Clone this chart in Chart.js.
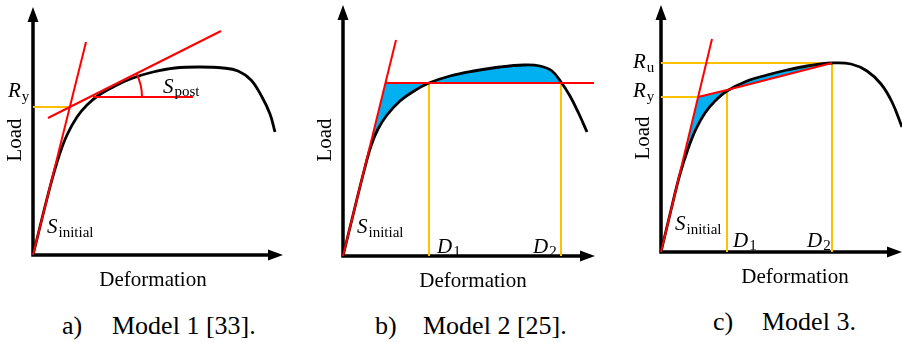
<!DOCTYPE html>
<html>
<head>
<meta charset="utf-8">
<script src="https://cdn.jsdelivr.net/npm/chart.js@4.4.2/dist/chart.umd.min.js"></script>
<style>
  body { margin: 0; background: #fff; }
  #fig { position: relative; width: 902px; height: 342px; overflow: hidden; background: #fff;
         font-family: "Liberation Serif", "Times New Roman", serif; }
  #fig canvas { position: absolute; top: 0; }
  .cap { position: absolute; font-size: 26px; line-height: 26px; white-space: pre; color: #000; }
</style>
</head>
<body>
<div id="fig">
  <canvas id="chartA" width="300" height="300" style="left:0px"></canvas>
  <canvas id="chartB" width="300" height="300" style="left:300px"></canvas>
  <canvas id="chartC" width="302" height="300" style="left:600px"></canvas>
  <div class="cap" style="left:62px;top:313px">a)</div>
  <div class="cap" style="left:112px;top:313px">Model 1 [33].</div>
  <div class="cap" style="left:375px;top:313px">b)</div>
  <div class="cap" style="left:423px;top:313px">Model 2 [25].</div>
  <div class="cap" style="left:713px;top:309px">c)</div>
  <div class="cap" style="left:762px;top:309px">Model 3.</div>
</div>

<script>
// values: [deformation, load], origin of each panel = 0,0

// a) Model 1
const curveA   = [[0,0],[17,68],[26,99],[34,120],[44,138],[54,150],[66,160],[82,169],[100,177],[120,183],
                  [142,187],[167,188],[190,187],[205,184],[218,175],[229,158],[237,141],[242,123]];
const steepA   = [[0,0],[53,213]];
const tangentA = [[15,137],[188,224]];
const levelA   = [[60,158],[160,158]];
const yieldA   = [[0,148],[36,148]];

// b) Model 2
const curveB   = [[0,0],[12,49],[21,85],[28,110],[35,127],[44,141],[57,155],[71,165],[86,173],[107,180],
                  [131,185],[157,189],[181,191],[197,190],[209,185],[218,174],[227,160],[236,142],[244,124]];
const steepB   = [[0,0],[53,216]];
const levelB   = [[42,173],[251,173]];
const areaB    = [[28,114],[42,173],[218,173]];
const d1B      = [[86,0],[86,173]];
const d2B      = [[218,0],[218,173]];

// c) Model 3
const curveC   = [[0,0],[10,42],[19,78],[27,103],[35,123],[44,139],[54,151],[66,161],[86,171],[106,177],
                  [126,182],[146,186],[171,189],[190,188],[206,181],[220,168],[231,150],[241,125]];
const steepC   = [[0,0],[51,213]];
const bilinC   = [[37,155],[66,162],[171,189]];
const areaC    = [[19,79],[37,155],[66,162],[171,189]];
const ruC      = [[0,189],[171,189]];
const ryC      = [[0,155],[37,155]];
const d1C      = [[66,0],[66,162]];
const d2C      = [[171,0],[171,189]];

const RED = '#ff0000', YELLOW = '#ffc000', BLUE = '#00b0f0', BLACK = '#000000';

function line(points, color, width, extra) {
  return Object.assign({
    data: points.map(p => ({x: p[0], y: p[1]})),
    borderColor: color,
    borderWidth: width,
    pointRadius: 0,
    fill: false,
    tension: 0
  }, extra || {});
}

function curve(points, extra) {
  return line(points, BLACK, 2.8, Object.assign({tension: 0.4}, extra || {}));
}

// axes with arrows, labels and the angle mark
function diagram(deco) {
  return {
    id: 'diagram',
    beforeDatasetsDraw(chart) {
      const {ctx, scales: {x, y}} = chart;
      const x0 = x.getPixelForValue(0), y0 = y.getPixelForValue(0);
      const xt = x.getPixelForValue(deco.axisEnd[0]), yt = y.getPixelForValue(deco.axisEnd[1]);
      ctx.save();
      ctx.strokeStyle = BLACK;
      ctx.fillStyle = BLACK;
      ctx.lineWidth = 3.5;
      ctx.beginPath();
      ctx.moveTo(x0, y0 + 1.7);
      ctx.lineTo(x0, yt + 12);
      ctx.moveTo(x0 - 1.7, y0);
      ctx.lineTo(xt - 12, y0);
      ctx.stroke();
      ctx.beginPath();
      ctx.moveTo(x0, yt);
      ctx.lineTo(x0 - 5.5, yt + 15);
      ctx.lineTo(x0 + 5.5, yt + 15);
      ctx.closePath();
      ctx.fill();
      ctx.beginPath();
      ctx.moveTo(xt, y0);
      ctx.lineTo(xt - 15, y0 - 5.5);
      ctx.lineTo(xt - 15, y0 + 5.5);
      ctx.closePath();
      ctx.fill();
      ctx.restore();
    },
    afterDatasetsDraw(chart) {
      const {ctx, scales: {x, y}} = chart;
      ctx.save();
      ctx.fillStyle = BLACK;
      ctx.textBaseline = 'alphabetic';

      if (deco.arc) {
        const a = deco.arc;
        const cx = x.getPixelForValue(a.center[0]), cy = y.getPixelForValue(a.center[1]);
        const r = x.getPixelForValue(a.center[0] + a.radius) - cx;
        const p1 = a.along[0], p2 = a.along[1];
        const ang = Math.atan2(y.getPixelForValue(p2[1]) - y.getPixelForValue(p1[1]),
                               x.getPixelForValue(p2[0]) - x.getPixelForValue(p1[0]));
        ctx.strokeStyle = RED;
        ctx.lineWidth = 2;
        ctx.beginPath();
        ctx.arc(cx, cy, r, ang, 0);
        ctx.stroke();
      }

      for (const lab of deco.symbols) {
        const px = x.getPixelForValue(lab.at[0]), py = y.getPixelForValue(lab.at[1]);
        ctx.textAlign = 'left';
        ctx.font = 'italic 21px "Liberation Serif"';
        ctx.fillText(lab.main, px, py);
        const w = ctx.measureText(lab.main).width;
        ctx.font = '15px "Liberation Serif"';
        ctx.fillText(lab.sub, px + w + 1, py + (lab.drop || 4));
      }

      ctx.font = '21px "Liberation Serif"';
      ctx.textAlign = 'center';
      ctx.fillText('Deformation', x.getPixelForValue(deco.xTitle[0]), y.getPixelForValue(deco.xTitle[1]));
      ctx.translate(x.getPixelForValue(deco.yTitle[0]), y.getPixelForValue(deco.yTitle[1]));
      ctx.rotate(-Math.PI / 2);
      ctx.textBaseline = 'middle';
      ctx.fillText('Load', 0, 0);
      ctx.restore();
    }
  };
}

function makeChart(id, range, datasets, deco) {
  return new Chart(document.getElementById(id), {
    type: 'line',
    data: { datasets: datasets },
    options: {
      responsive: false,
      animation: false,
      devicePixelRatio: 1,
      layout: { padding: 0 },
      scales: {
        x: { type: 'linear', min: range[0], max: range[1], display: false },
        y: { type: 'linear', min: range[2], max: range[3], display: false }
      },
      plugins: { legend: { display: false }, tooltip: { enabled: false } }
    },
    plugins: [diagram(deco)]
  });
}

makeChart('chartA', [-33, 267, -45, 255], [
  line(steepA, RED, 2),
  line(tangentA, RED, 2),
  line(levelA, RED, 2),
  curve(curveA),
  line(yieldA, YELLOW, 2.2)
], {
  axisEnd: [250, 248],
  arc: { center: [57, 158], radius: 52, along: tangentA },
  symbols: [
    { main: 'R', sub: 'y', at: [-25, 158] },
    { main: 'S', sub: 'post', at: [130, 162], drop: 3 },
    { main: 'S', sub: 'initial', at: [14, 22] }
  ],
  xTitle: [120, -31],
  yTitle: [-18, 115]
});

makeChart('chartB', [-43, 257, -44, 256], [
  line(steepB, RED, 2),
  line(levelB, RED, 2),
  curve(curveB, { fill: { target: 5, above: BLUE, below: BLUE } }),
  line(d1B, YELLOW, 2),
  line(d2B, YELLOW, 2),
  line(areaB, 'rgba(0,0,0,0)', 0)
], {
  axisEnd: [252, 251],
  symbols: [
    { main: 'S', sub: 'initial', at: [14, 23] },
    { main: 'D', sub: '1', at: [94, 3], drop: 3 },
    { main: 'D', sub: '2', at: [190, 3], drop: 3 }
  ],
  xTitle: [130, -31],
  yTitle: [-18, 116]
});

makeChart('chartC', [-61, 241, -48, 252], [
  line(steepC, RED, 2),
  line(bilinC, RED, 2),
  curve(curveC, { fill: { target: 8, above: BLUE, below: BLUE } }),
  line(ruC, YELLOW, 2),
  line(ryC, YELLOW, 2),
  line(d1C, YELLOW, 2),
  line(d2C, YELLOW, 2),
  line([[0,0],[0,0]], 'rgba(0,0,0,0)', 0),
  line(areaC, 'rgba(0,0,0,0)', 0)
], {
  axisEnd: [241, 247],
  symbols: [
    { main: 'R', sub: 'u', at: [-28, 184] },
    { main: 'R', sub: 'y', at: [-28, 155] },
    { main: 'S', sub: 'initial', at: [14, 22] },
    { main: 'D', sub: '1', at: [72, 5], drop: 3 },
    { main: 'D', sub: '2', at: [146, 5], drop: 3 }
  ],
  xTitle: [134, -31],
  yTitle: [-18, 114]
});
</script>
</body>
</html>
